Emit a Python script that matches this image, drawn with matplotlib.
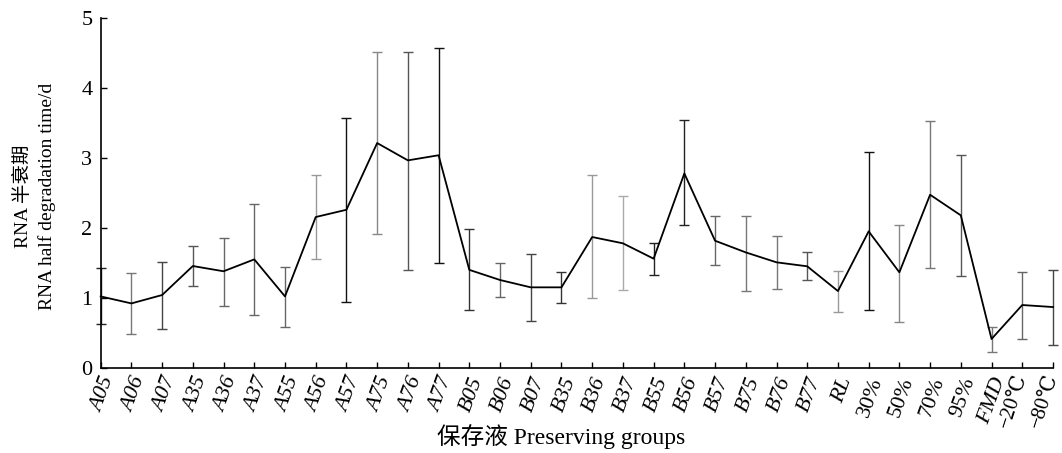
import matplotlib
matplotlib.use("Agg")
import matplotlib.pyplot as plt
import numpy as np

categories = ["A05", "A06", "A07", "A35", "A36", "A37", "A55", "A56", "A57",
              "A75", "A76", "A77", "B05", "B06", "B07", "B35", "B36", "B37",
              "B55", "B56", "B57", "B75", "B76", "B77", "RL", "30%", "50%",
              "70%", "95%", "FMD", "\u221220\u2103", "\u221280\u2103"]
italic_labels = [True] * 25 + [False] * 4 + [True] + [False] * 2

half_life = [1.02, 0.92, 1.04, 1.455, 1.38, 1.55, 1.02, 2.156, 2.26,
             3.215, 2.967, 3.04, 1.40, 1.255, 1.15, 1.15, 1.87, 1.78,
             1.56, 2.78, 1.817, 1.65, 1.508, 1.451, 1.097, 1.951, 1.365,
             2.475, 2.18, 0.411, 0.897, 0.868]
upper = [1.43, 1.35, 1.517, 1.737, 1.86, 2.342, 1.436, 2.752, 3.577,
         4.52, 4.52, 4.57, 1.989, 1.502, 1.622, 1.365, 2.761, 2.461,
         1.789, 3.548, 2.17, 2.175, 1.884, 1.66, 1.388, 3.081, 2.046,
         3.534, 3.039, 0.587, 1.373, 1.398]
lower = [0.62, 0.486, 0.549, 1.169, 0.887, 0.758, 0.578, 1.551, 0.944,
         1.908, 1.402, 1.493, 0.821, 1.011, 0.672, 0.93, 0.993, 1.107,
         1.322, 2.037, 1.465, 1.102, 1.13, 1.25, 0.792, 0.825, 0.658,
         1.422, 1.308, 0.229, 0.415, 0.329]

bar_colors = ["#222", "#777", "#444", "#555", "#666", "#666", "#666", "#999", "#111",
              "#888", "#555", "#111", "#333", "#666", "#444", "#333", "#999", "#aaa",
              "#222", "#222", "#666", "#777", "#777", "#555", "#999", "#111", "#888",
              "#777", "#555", "#777", "#666", "#444"]

serif = ["Liberation Serif", "DejaVu Serif"]
cjk = ["Liberation Serif", "Noto Sans CJK SC", "DejaVu Serif"]
plt.rcParams["font.family"] = serif

fig = plt.figure(figsize=(10.62, 4.53), dpi=100)
ax = fig.add_axes([0.0948, 0.1883, 0.8967, 0.7713])

x = np.arange(len(categories))
for xi, m, lo, hi, c in zip(x, half_life, lower, upper, bar_colors):
    cont = ax.errorbar([xi], [m], yerr=[[m - lo], [hi - m]], fmt="none",
                       ecolor=c, elinewidth=1.0, capsize=3.3, capthick=1.0, zorder=2)
    for child in cont.get_children():
        child.set_clip_on(False)
ax.plot(x, half_life, color="black", linewidth=1.3, zorder=3, clip_on=False)

ax.set_xlim(0, len(categories) - 1)
ax.set_ylim(0, 5)
ax.set_yticks([0, 1, 2, 3, 4, 5])
ax.set_xticks(x)
ax.set_xticklabels(categories)
for lbl, it in zip(ax.get_xticklabels(), italic_labels):
    is_temp = "\u2103" in lbl.get_text()
    lbl.set_rotation(72 if is_temp else 70)
    lbl.set_ha("right")
    lbl.set_va("center" if is_temp else "top")
    lbl.set_rotation_mode("anchor")
    lbl.set_fontstyle("italic" if it else "normal")
    lbl.set_fontsize(15 if is_temp else 16)
    lbl.set_family(serif)

ax.tick_params(axis="both", direction="in", length=4, width=1.0, colors="black")
ax.tick_params(axis="y", labelsize=16, pad=6)
ax.tick_params(axis="x", pad=5)

for s in ["top", "right"]:
    ax.spines[s].set_visible(False)
for s in ["left", "bottom"]:
    ax.spines[s].set_linewidth(1.2)

ax.set_ylabel("RNA 半衰期\nRNA half degradation time/d", fontsize=14,
              family=cjk, linespacing=1.4, va="center")
ax.yaxis.set_label_coords(-0.069, 0.49)
ax.set_xlabel("保存液 Preserving groups", fontsize=17, family=cjk, va="center")
ax.xaxis.set_label_coords(0.4835, -0.198)

fig.savefig("out.png", dpi=100)
